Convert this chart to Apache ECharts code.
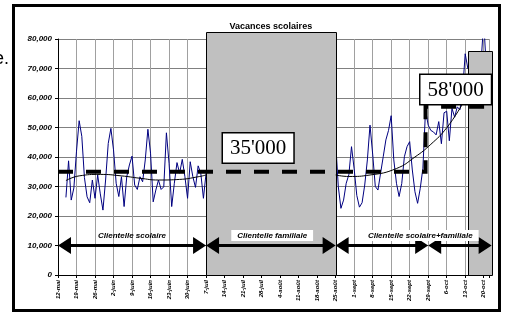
<!DOCTYPE html>
<html>
<head>
<meta charset="utf-8">
<script src="https://cdn.jsdelivr.net/npm/echarts@6/dist/echarts.min.js"></script>
<style>
  html, body { margin: 0; padding: 0; background: #fff; }
  #main { width: 507px; height: 312px; }
</style>
</head>
<body>
<div id="main"></div>
<script>
// x轴：每周一个标签（第0天 = 12-mai）
const weekLabels = ['12-mai', '19-mai', '26-mai', '2-juin', '9-juin', '16-juin', '23-juin', '30-juin',
  '7-juil', '14-juil', '21-juil', '28-juil', '4-août', '11-août', '18-août', '25-août',
  '1-sept', '8-sept', '15-sept', '22-sept', '29-sept', '6-oct', '13-oct', '20-oct']

// 每日数据 第一段（从第3天开始）
const period1Start = 3
const period1 = [26300, 38700, 25400, 29500, 42000, 52300, 47000, 33000, 26500, 24500,
  32200, 26000, 33900, 27500, 22000, 32200, 44600, 49700, 42400, 31100,
  26600, 33300, 23200, 33300, 37300, 40300, 30500, 29000, 33300, 31600,
  39000, 49400, 41300, 24800, 28800, 32200, 29000, 29900, 48200, 37900,
  23200, 31100, 38100, 34500, 39200, 33300, 26000, 38400, 33300, 29700,
  37000, 34500, 26000, 34500]

// 每日数据 第二段（从第105天开始）
const period2Start = 105
const period2 = [45200, 30000, 22600, 25400, 31100, 34000, 43500, 36000, 27000, 23000,
  24500, 30500, 39000, 50800, 41000, 30000, 28800, 34500, 40100, 45800,
  49000, 54000, 39000, 31100, 26600, 31000, 40100, 43500, 45200, 35600,
  28200, 24300, 29400, 36200, 56000, 50800, 49000, 48500, 47500, 52000,
  44500, 55000, 55500, 45500, 56500, 53500, 57000, 56000, 62000, 75000,
  70000, 72000, 68000, 73000, 70000, 72000, 86000, 70000]

// 趋势线
const trend1Days = [3, 8, 16, 24, 31, 38, 46, 53, 56]
const trend1Values = [32000, 33600, 34100, 33600, 32800, 32200, 32400, 33300, 33900]
const trend2Days = [105, 110, 118, 128, 135, 141, 147, 153]
const trend2Values = [33900, 33400, 33900, 36100, 40000, 44300, 49900, 58000]

// 平均水平（粗虚线）
const levelDays = [0, 139, 139, 165]
const levelValues = [35000, 35000, 57000, 57000]

// 灰色区块（假期）
const blockStart = [56, 155]
const blockEnd = [105, 164]
const blockTop = [82300, 76000]
const blockTitles = ['Vacances scolaires', '']

// 双向箭头
const arrowStart = [0, 56, 105, 140]
const arrowEnd = [56, 105, 140, 164]
const arrowLevel = 10000

// 客户类型文字
const clienteleNames = ['Clientelle scolaire', 'Clientelle familiale', 'Clientelle scolaire+familiale']
const clienteleCenter = [28, 81, 137]
const clienteleBoxed = [false, true, true]

// 文本框
const boxTexts = ["35'000", "58'000"]

const sans = 'Liberation Sans, Arial, sans-serif'
const serif = 'Liberation Serif, Times New Roman, serif'

const toPairs = (start, arr) => arr.map((v, i) => [start + i, v])
const zip = (xs, ys) => xs.map((x, i) => [x, ys[i]])

const chartInstance = echarts.init(document.getElementById('main'))

const initOption = {
  animation: false,
  backgroundColor: '#fff',
  grid: {
    left: 58,
    top: 39,
    width: 431,
    height: 236
  },
  xAxis: {
    type: 'value',
    min: 0,
    max: 163,
    interval: 7,
    axisLine: { lineStyle: { color: '#000', width: 1 } },
    axisTick: { length: 3, lineStyle: { color: '#000' } },
    axisLabel: {
      rotate: 90,
      margin: 5,
      fontSize: 6,
      fontStyle: 'italic',
      fontWeight: 'bold',
      fontFamily: sans,
      color: '#000',
      formatter: (v) => (v % 7 === 0 ? weekLabels[v / 7] || '' : '')
    },
    splitLine: { show: true, lineStyle: { color: '#a0a0a0', width: 1 } }
  },
  yAxis: {
    type: 'value',
    min: 0,
    max: 80000,
    interval: 10000,
    axisLine: { show: true, lineStyle: { color: '#000', width: 1 } },
    axisTick: { show: true, length: 3, lineStyle: { color: '#000' } },
    axisLabel: {
      margin: 6,
      fontSize: 8,
      fontStyle: 'italic',
      fontWeight: 'bold',
      fontFamily: sans,
      color: '#000'
    },
    splitLine: { show: true, lineStyle: { color: '#808080', width: 1 } }
  },
  series: [
    // 每日曲线
    {
      type: 'line',
      data: toPairs(period1Start, period1),
      showSymbol: false,
      lineStyle: { color: '#000080', width: 1 },
      z: 2
    },
    {
      type: 'line',
      data: toPairs(period2Start, period2),
      showSymbol: false,
      lineStyle: { color: '#000080', width: 1 },
      z: 2
    },
    // 灰色区块
    {
      type: 'custom',
      z: 3,
      clip: false,
      data: blockStart.map((s, i) => [s, blockEnd[i], blockTop[i], i]),
      renderItem(params, api) {
        const p0 = api.coord([api.value(0), 0])
        const p1 = api.coord([api.value(1), api.value(2)])
        const title = blockTitles[api.value(3)]
        return {
          type: 'group',
          children: [
            {
              type: 'rect',
              shape: { x: Math.round(p0[0]) + 0.5, y: Math.round(p1[1]) + 0.5, width: Math.round(p1[0] - p0[0]), height: Math.round(p0[1] - p1[1]) },
              style: { fill: '#c0c0c0', stroke: '#000', lineWidth: 1 }
            },
            {
              type: 'text',
              x: (p0[0] + p1[0]) / 2,
              y: p1[1] - 6,
              style: { text: title, font: 'bold 9px ' + sans, fill: '#000', align: 'center', verticalAlign: 'middle' }
            }
          ]
        }
      }
    },
    // 趋势线
    {
      type: 'line',
      data: zip(trend1Days, trend1Values),
      smooth: true,
      showSymbol: false,
      lineStyle: { color: '#000', width: 1 },
      z: 4
    },
    {
      type: 'line',
      data: zip(trend2Days, trend2Values),
      smooth: true,
      showSymbol: false,
      lineStyle: { color: '#000', width: 1 },
      z: 4
    },
    // 平均水平 虚线
    {
      type: 'line',
      data: zip(levelDays, levelValues),
      clip: false,
      showSymbol: false,
      lineStyle: { color: '#000', width: 4, type: [15, 13], cap: 'butt', join: 'miter' },
      z: 5
    },
    // 双向箭头
    {
      type: 'custom',
      z: 6,
      clip: false,
      data: arrowStart.map((s, i) => [s, arrowEnd[i], arrowLevel]),
      renderItem(params, api) {
        const a = api.coord([api.value(0), api.value(2)])
        const b = api.coord([api.value(1), api.value(2)])
        const hl = 13
        const hw = 8.5
        return {
          type: 'group',
          children: [
            { type: 'line', shape: { x1: a[0] + hl - 1, y1: a[1], x2: b[0] - hl + 1, y2: b[1] }, style: { stroke: '#000', lineWidth: 3 } },
            { type: 'polygon', shape: { points: [[a[0], a[1]], [a[0] + hl, a[1] - hw], [a[0] + hl, a[1] + hw]] }, style: { fill: '#000' } },
            { type: 'polygon', shape: { points: [[b[0], b[1]], [b[0] - hl, b[1] - hw], [b[0] - hl, b[1] + hw]] }, style: { fill: '#000' } }
          ]
        }
      }
    },
    // 客户类型文字
    {
      type: 'custom',
      z: 7,
      clip: false,
      data: clienteleCenter.map((c, i) => [c, arrowLevel, i]),
      renderItem(params, api) {
        const p = api.coord([api.value(0), api.value(1)])
        const i = api.value(2)
        return {
          type: 'text',
          x: p[0],
          y: p[1] - 10,
          style: {
            text: clienteleNames[i],
            font: 'italic bold 8px ' + sans,
            fill: '#000',
            align: 'center',
            verticalAlign: 'middle',
            backgroundColor: clienteleBoxed[i] ? '#fff' : null,
            padding: clienteleBoxed[i] ? [2, 6, 1, 6] : 0
          }
        }
      }
    }
  ],
  graphic: [
    // 外框
    {
      type: 'rect',
      z: 0,
      shape: { x: 13.5, y: 5.5, width: 486, height: 305 },
      style: { fill: null, stroke: '#000', lineWidth: 3 }
    },
    {
      type: 'text',
      x: 9,
      y: 59,
      style: { text: 'e.', font: '18px ' + sans, fill: '#000', align: 'right', verticalAlign: 'middle' }
    },
    // 文本框
    {
      type: 'text',
      z: 10,
      x: 223,
      y: 133.5,
      style: {
        text: boxTexts[0], font: '21px ' + serif, fill: '#000',
        backgroundColor: '#fff', borderColor: '#000', borderWidth: 1.5,
        padding: [3, 7, 2, 7], lineHeight: 24
      }
    },
    {
      type: 'text',
      z: 10,
      x: 420.5,
      y: 75,
      style: {
        text: boxTexts[1], font: '21px ' + serif, fill: '#000',
        backgroundColor: '#fff', borderColor: '#000', borderWidth: 1.5,
        padding: [3, 7, 2, 7], lineHeight: 24
      }
    }
  ]
}

chartInstance.setOption(initOption)
</script>
</body>
</html>
